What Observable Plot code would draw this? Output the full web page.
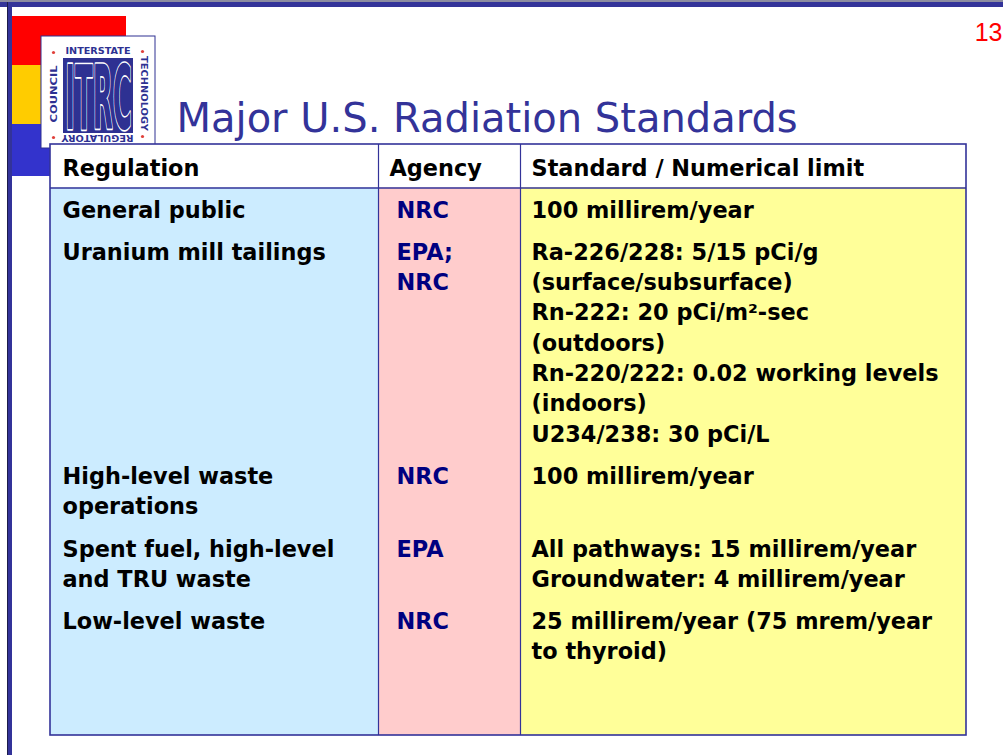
<!DOCTYPE html>
<html>
<head>
<meta charset="utf-8">
<script src="https://cdn.jsdelivr.net/npm/d3@7"></script>
<script src="https://cdn.jsdelivr.net/npm/@observablehq/plot@0.6"></script>
<style>
  html, body { margin: 0; padding: 0; background: #ffffff; overflow: hidden; }
  #chart svg { display: block; }
</style>
</head>
<body>
<div id="chart"></div>
<script>
// ---------- content ----------
const slideTitle = "Major U.S. Radiation Standards";
const slideNumber = "13";
const headers = ["Regulation", "Agency", "Standard / Numerical limit"];
const regulations = [
  ["General public"],
  ["Uranium mill tailings"],
  ["High-level waste", "operations"],
  ["Spent fuel, high-level", "and TRU waste"],
  ["Low-level waste"]
];
const agencies = [
  ["NRC"],
  ["EPA;", "NRC"],
  ["NRC"],
  ["EPA"],
  ["NRC"]
];
const standards = [
  ["100 millirem/year"],
  ["Ra-226/228: 5/15 pCi/g", "(surface/subsurface)", "Rn-222: 20 pCi/m²-sec", "(outdoors)",
   "Rn-220/222: 0.02 working levels", "(indoors)", "U234/238: 30 pCi/L"],
  ["100 millirem/year"],
  ["All pathways: 15 millirem/year", "Groundwater: 4 millirem/year"],
  ["25 millirem/year (75 mrem/year", "to thyroid)"]
];
const logoMark = "ITRC";
const logoWords = ["INTERSTATE", "TECHNOLOGY", "REGULATORY", "COUNCIL"];

// ---------- layout ----------
const W = 1003, H = 755;
const navy = "#333399";
const tableBox = {x1: 50, x2: 966, y1: 144, yHead: 187.5, y2: 735};
const colEdges = [50, 378, 520, 966];
const colFill = ["#CCECFF", "#FFCCCC", "#FFFF99"];
const headX = [62, 389, 531];
const bodyX = [62, 396, 531];
const headBaseline = 175;
const firstBaseline = 217, lineStep = 30.3, rowGap = 12;
const fontBody = "DejaVu Sans";
const bodySize = 22.4;

const decor = [
  {x1: 0, x2: W, y1: 0, y2: 2, fill: "#8c8ca0"},
  {x1: 0, x2: W, y1: 2, y2: 7, fill: navy},
  {x1: 7, x2: 8, y1: 2, y2: H, fill: "#1c1c4a"},
  {x1: 8, x2: 12, y1: 2, y2: H, fill: navy},
  {x1: 12, x2: 126, y1: 16, y2: 65, fill: "#FF0000"},
  {x1: 12, x2: 60, y1: 65, y2: 124, fill: "#FFCC00"},
  {x1: 12, x2: 50, y1: 124, y2: 176, fill: "#3333CC"}
];

// logo geometry
const logoBox = {x1: 41, x2: 155, y1: 36, y2: 148};
const logoBlock = {x1: 63, x2: 133, y1: 58, y2: 133};
const logoWordPos = [
  {x: 97.5, y: 50.5, rotate: 0, len: 65},
  {x: 143.5, y: 93, rotate: 90, len: 75},
  {x: 97, y: 137.5, rotate: 180, len: 72},
  {x: 53, y: 93.5, rotate: -90, len: 57}
];
const logoDots = [{x: 53, y: 52}, {x: 142, y: 51}, {x: 53, y: 137}, {x: 142, y: 136}];

// ---------- derived cells ----------
const columns = [regulations, agencies, standards];
const rowLines = regulations.map((_, r) => Math.max(...columns.map(col => col[r].length)));
let acc = 0;
const rowStart = rowLines.map(n => { const s = acc; acc += n; return s; });
const cells = [];
columns.forEach((col, c) => col.forEach((lines, r) => lines.forEach((t, i) => {
  cells.push({c, r, i, text: t, x: bodyX[c], y: firstBaseline + (rowStart[r] + i) * lineStep + r * rowGap});
})));
const colBands = colFill.map((f, c) => ({x1: colEdges[c], x2: colEdges[c + 1], y1: tableBox.yHead, y2: tableBox.y2, fill: f}));
const words = logoWords.map((w, i) => ({text: w, ...logoWordPos[i]}));

const R = (data, o) => Plot.rect(data, {x1: "x1", x2: "x2", y1: "y1", y2: "y2", ...o});

const svg = Plot.plot({
  width: W, height: H, margin: 0,
  x: {domain: [0, W], range: [0, W], axis: null},
  y: {domain: [0, H], range: [0, H], axis: null},
  color: {type: "identity"},
  style: {background: "#ffffff", overflow: "visible"},
  marks: [
    // slide frame and colour blocks
    R(decor, {fill: "fill"}),
    // logo
    R([logoBox], {fill: "#ffffff", stroke: "#2e3192", strokeWidth: 1}),
    R([logoBlock], {fill: "#2e3192"}),
    Plot.text([logoMark], {x: (logoBlock.x1 + logoBlock.x2) / 2, y: 128, text: d => d,
      fontSize: 26, fontWeight: "bold", fontFamily: fontBody, fill: "#2e3192",
      stroke: "#ffffff", strokeWidth: 2.5, textAnchor: "middle", lineAnchor: "bottom"}),
    Plot.text(words, {x: "x", y: "y", text: "text", rotate: "rotate", fontSize: 9.5,
      fontWeight: "bold", fontFamily: fontBody, fill: "#2e3192", textAnchor: "middle", lineAnchor: "middle"}),
    Plot.dot(logoDots, {x: "x", y: "y", r: 1.6, fill: "#e0403a"}),
    // table backgrounds
    R([{x1: tableBox.x1, x2: tableBox.x2, y1: tableBox.y1, y2: tableBox.yHead}], {fill: "#ffffff"}),
    R(colBands, {fill: "fill"}),
    // borders
    Plot.ruleX(colEdges.slice(1, -1), {x: d => d, y1: tableBox.y1, y2: tableBox.y2, stroke: navy, strokeWidth: 1.2}),
    Plot.ruleY([tableBox.yHead], {y: d => d, x1: tableBox.x1, x2: tableBox.x2, stroke: navy, strokeWidth: 1.3}),
    R([tableBox], {fill: "none", stroke: navy, strokeWidth: 1.6}),
    // header text
    Plot.text(headers, {x: (d, i) => headX[i], y: headBaseline, text: d => d, fontSize: bodySize,
      fontWeight: "bold", fontFamily: fontBody, fill: "#000000", textAnchor: "start", lineAnchor: "bottom"}),
    // body text
    Plot.text(cells, {x: "x", y: "y", text: "text", fontSize: bodySize, fontWeight: "bold", fontFamily: fontBody,
      fill: d => d.c === 1 ? "#000080" : "#000000", textAnchor: "start", lineAnchor: "bottom"}),
    // title and slide number
    Plot.text([slideTitle], {x: 176, y: 131, text: d => d, fontSize: 40, fontFamily: fontBody,
      fill: navy, textAnchor: "start", lineAnchor: "bottom"}),
    Plot.text([slideNumber], {x: 1002, y: 40, text: d => d, fontSize: 25, fontFamily: "Liberation Sans",
      fill: "#FF0000", textAnchor: "end", lineAnchor: "bottom"})
  ]
});

// fit logo lettering to the logo's proportions
const lens = {};
words.forEach(w => { lens[w.text] = w.len; });
d3.select(svg).selectAll("text").each(function () {
  const t = this.textContent;
  if (lens[t] !== undefined) {
    this.setAttribute("textLength", lens[t]);
    this.setAttribute("lengthAdjust", "spacingAndGlyphs");
  }
  if (t === logoMark) {
    // tall, condensed block letters: stretch vertically
    this.setAttribute("transform", (this.getAttribute("transform") || "") + " scale(1,3.4)");
    this.setAttribute("vector-effect", "non-scaling-stroke");
    this.style.vectorEffect = "non-scaling-stroke";
  }
});

document.getElementById("chart").append(svg);
</script>
</body>
</html>
